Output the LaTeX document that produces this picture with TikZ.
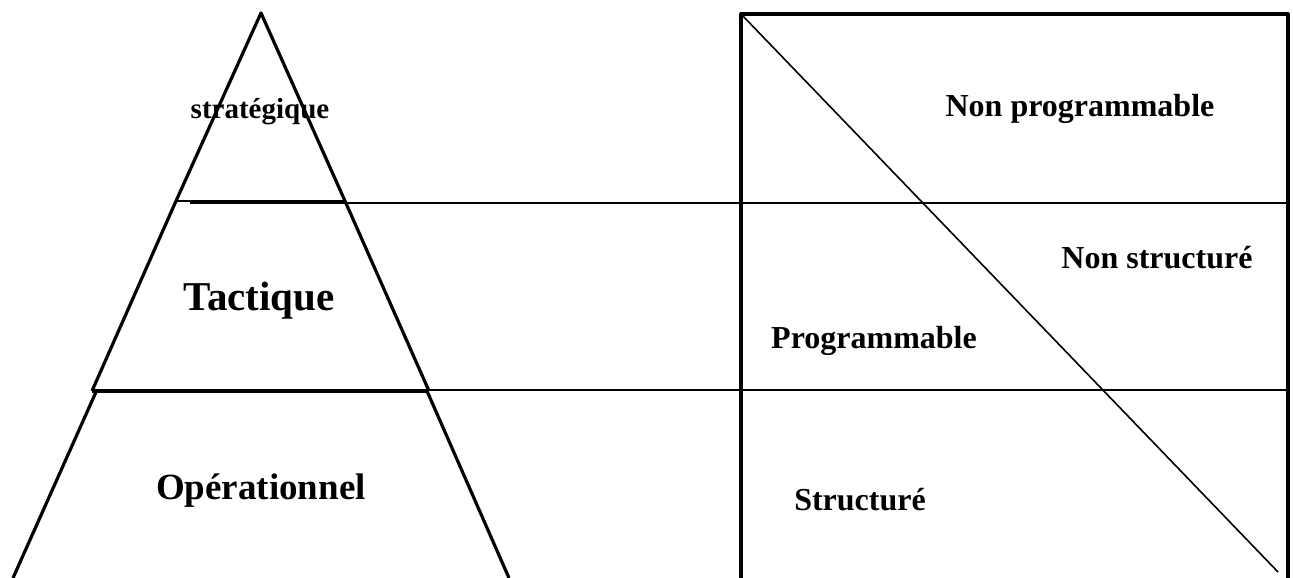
\documentclass[tikz,border=0pt]{standalone}
\usepackage{fontspec}
\setmainfont{Liberation Serif}
\usepackage{tikz}
\usetikzlibrary{calc}

\begin{document}
\begin{tikzpicture}[x=1pt,y=-1pt,line join=round,
        side/.style={line width=3.2pt},
        rule/.style={line width=2pt},
        lbl/.style={anchor=base,inner sep=0pt,font=\bfseries\fontsize{32}{38}\selectfont}]
        \useasboundingbox (0,0) rectangle (1293,578);
        % pyramide
        \coordinate (apex) at (261,13);
        \coordinate (tl) at (176,201);
        \coordinate (tr) at (345,201);
        \coordinate (ml) at (92,391);
        \coordinate (mr) at (429,391);
        \coordinate (bl) at (96,392);
        \coordinate (br) at (427,391);
        \draw[side] (tl) -- (apex) -- (tr);
        \draw[line width=1.2pt] (tl) -- (tr);
        \draw[side] (tl) -- (ml);
        \draw[side] (tr) -- (mr);
        \draw[line width=4.5pt] (ml) -- (mr);
        \draw[side] (bl) -- (13,578);
        \draw[side] (br) -- (509,578);
        % tableau
        \coordinate (nw) at (741,14);
        \coordinate (ne) at (1288,14);
        \draw[side] (741,578) -- (nw) -- (ne) -- (1288,578);
        \draw[rule] (190,203) -- (1288,203);
        \draw[rule] (96,390) -- (1288,390);
        \draw[line width=1.6pt] (nw) -- (1278,572);
        % textes
        \node[lbl,font=\bfseries\fontsize{29}{34}\selectfont] (strat) at (260,118) {stratégique};
        \node[lbl,font=\bfseries\fontsize{41}{48}\selectfont] (tact) at (259,310) {Tactique};
        \node[lbl,font=\bfseries\fontsize{37}{44}\selectfont] (oper) at (261,499) {Opérationnel};
        \node[lbl] (nprog) at (1080,116) {Non programmable};
        \node[lbl] (nstruct) at (1157,268) {Non structuré};
        \node[lbl] (prog) at (874,348) {Programmable};
        \node[lbl] (struct) at (860,510) {Structuré};
\end{tikzpicture}
\end{document}
